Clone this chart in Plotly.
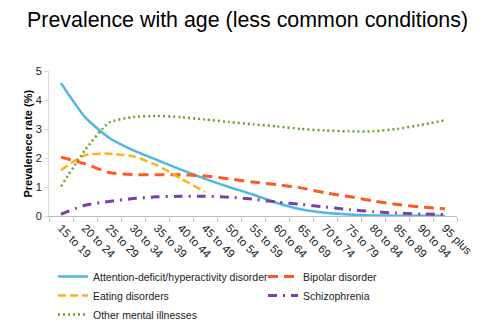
import plotly.graph_objects as go

age_groups = ["15 to 19", "20 to 24", "25 to 29", "30 to 34", "35 to 39", "40 to 44",
              "45 to 49", "50 to 54", "55 to 59", "60 to 64", "65 to 69", "70 to 74",
              "75 to 79", "80 to 84", "85 to 89", "90 to 94", "95 plus"]

adhd = [4.58, 3.41, 2.70, 2.27, 1.93, 1.60, 1.28, 1.00, 0.74, 0.45, 0.23, 0.11,
        0.05, 0.02, 0.01, 0.01, 0.01]
bipolar = [2.03, 1.80, 1.50, 1.43, 1.42, 1.42, 1.38, 1.28, 1.17, 1.08, 0.97, 0.80,
           0.67, 0.52, 0.40, 0.31, 0.25]
eating = [1.58, 2.10, 2.15, 2.06, 1.75, 1.29, 0.83]
schizophrenia = [0.06, 0.37, 0.50, 0.60, 0.66, 0.68, 0.68, 0.65, 0.58, 0.48, 0.40,
                 0.31, 0.22, 0.15, 0.10, 0.07, 0.05]
other = [1.02, 2.27, 3.22, 3.41, 3.45, 3.41, 3.33, 3.24, 3.16, 3.09, 3.00, 2.95,
         2.92, 2.92, 3.00, 3.14, 3.30]

# name, values, colour, dash, width, legend column
series = [
    ("Attention-deficit/hyperactivity disorder", adhd, "#4fb8e0", "solid", 2.5, "legend"),
    ("Bipolar disorder", bipolar, "#ff5a1f", "10px,6px", 3, "legend2"),
    ("Eating disorders", eating, "#ffb31a", "8px,4px", 2.5, "legend"),
    ("Schizophrenia", schizophrenia, "#7f3fa0", "9px,6px,2px,6px", 3, "legend2"),
    ("Other mental illnesses", other, "#6aa324", "2px,3px", 2.5, "legend"),
]

fig = go.Figure()
for name, vals, color, dash, width, leg in series:
    fig.add_trace(go.Scatter(
        x=age_groups[:len(vals)], y=vals, name=name, mode="lines", legend=leg,
        line=dict(color=color, dash=dash, width=width, shape="spline", smoothing=0.6),
    ))

font_family = "Liberation Sans, Arial, sans-serif"
legend_font = dict(family=font_family, size=10.5, color="#222222")
legend_y = 1 - 262 / 336

# plot area: x 49..457 px, y 71..216 px
fig.update_layout(
    width=489, height=336,
    margin=dict(l=49, r=32, t=71, b=120),
    paper_bgcolor="white", plot_bgcolor="white",
    font=dict(family=font_family, size=10, color="#222222"),
    title=dict(text="Prevalence with age (less common conditions)",
               x=27 / 489, xanchor="left", y=1 - 20 / 336, yanchor="middle",
               font=dict(family=font_family, size=21.4, color="#000000")),
    showlegend=True,
    legend=dict(orientation="v", x=4 / 408, xanchor="left", xref="paper",
                y=legend_y, yref="container", yanchor="top", itemwidth=30,
                font=legend_font, tracegroupgap=0, bgcolor="rgba(0,0,0,0)"),
    legend2=dict(orientation="v", x=214 / 408, xanchor="left", xref="paper",
                 y=legend_y, yref="container", yanchor="top", itemwidth=30,
                 font=legend_font, tracegroupgap=0, bgcolor="rgba(0,0,0,0)"),
    xaxis=dict(
        type="category", tickangle=45, showline=True, linecolor="#bfbfbf",
        linewidth=1, ticks="outside", tickson="boundaries", ticklen=5,
        tickcolor="#bfbfbf", showgrid=False, zeroline=False, automargin=False,
        tickfont=dict(family=font_family, size=11.5, color="#222222"),
        range=[-0.5, 16.5],
    ),
    yaxis=dict(
        range=[0, 5], dtick=1, showline=True, linecolor="#d9d9d9", linewidth=1,
        ticks="outside", ticklen=4, tickcolor="#d9d9d9", showgrid=False,
        zeroline=False, automargin=False,
        tickfont=dict(family=font_family, size=11, color="#222222"),
    ),
    annotations=[dict(
        text="<b>Prevalenece rate (%)</b>", textangle=-90, showarrow=False,
        xref="paper", yref="paper", x=(27 - 49) / 408, y=0.5,
        xanchor="center", yanchor="middle",
        font=dict(family=font_family, size=11, color="#000000"),
    )],
)

fig.write_html("out.html")
